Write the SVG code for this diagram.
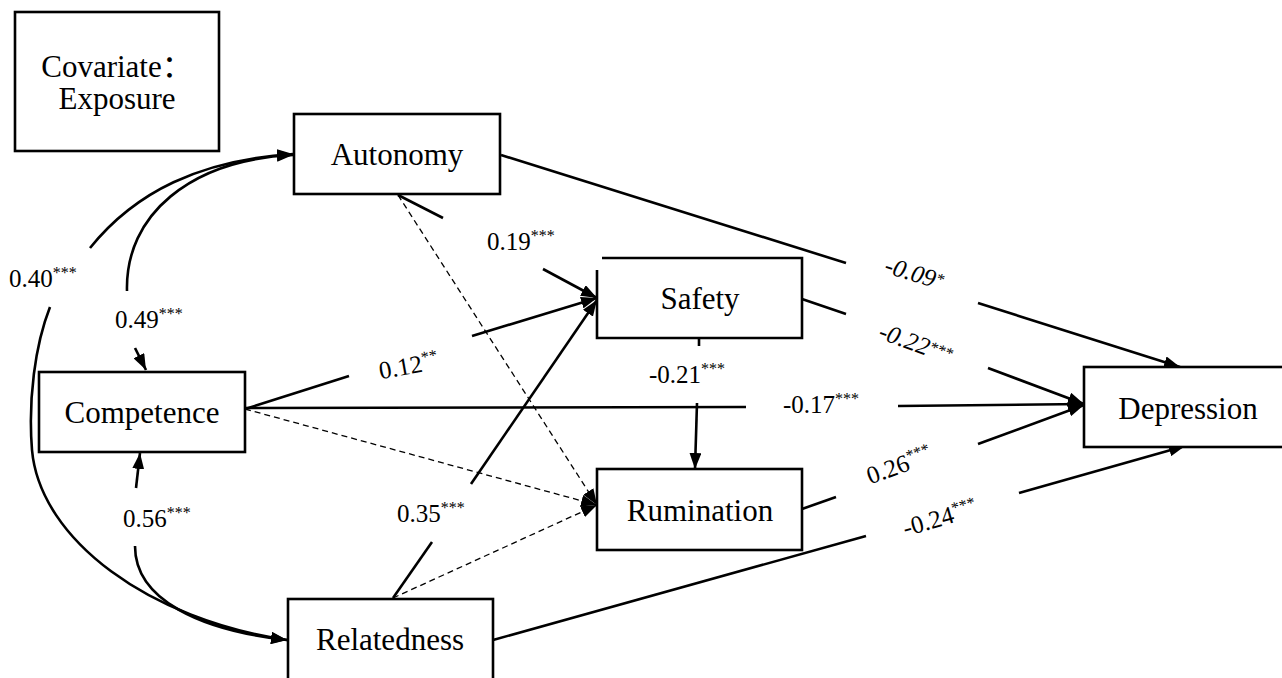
<svg xmlns="http://www.w3.org/2000/svg" width="1282" height="678" viewBox="0 0 1282 678">
<style>
.box{fill:#fff;stroke:#000;stroke-width:2.6}
.nt{font-family:"Liberation Serif","Noto Sans CJK SC",serif;font-size:31px;fill:#000;text-anchor:middle}
.ln{fill:none;stroke:#000;stroke-width:2.6}
.ds{fill:none;stroke:#000;stroke-width:1.3;stroke-dasharray:6 4}
.lb{font-family:"Liberation Serif",serif;font-size:25px;fill:#000}
.it{font-style:italic}
.mid{text-anchor:middle}
.sp{font-size:16px}
</style>
<defs>
<marker id="ah" viewBox="0 0 16 12" refX="16" refY="6" markerWidth="16" markerHeight="12" markerUnits="userSpaceOnUse" orient="auto">
<path d="M0,0 L16,6 L0,12 z" fill="#000"/>
</marker>
</defs>

<g id="connectors">
<!-- left curves -->
<path class="ln" d="M127 291 C125 215 190 160 293 155" marker-end="url(#ah)"/>
<path class="ln" d="M135 348 L146 370" marker-end="url(#ah)"/>
<path class="ln" d="M90 248 C135 192 200 160 293 154" marker-end="url(#ah)"/>
<path class="ln" d="M50 307 C35 345 28 400 32 450 C40 540 150 620 287 640" marker-end="url(#ah)"/>
<path class="ln" d="M136 488 L140 453" marker-end="url(#ah)"/>
<path class="ln" d="M135 546 C135 600 200 630 287 640" marker-end="url(#ah)"/>
<!-- to Safety -->
<path class="ln" d="M398 195 L443 218"/>
<path class="ln" d="M543 269 L597 298" marker-end="url(#ah)"/>
<path class="ln" d="M245 409 L349 376"/>
<path class="ln" d="M472 336 L597 298" marker-end="url(#ah)"/>
<path class="ln" d="M393 598 L432 542"/>
<path class="ln" d="M471 484 L597 300" marker-end="url(#ah)"/>
<!-- dashed to Rumination -->
<path class="ds" d="M398 195 L597 505" marker-end="url(#ah)"/>
<path class="ds" d="M245 409 L597 505" marker-end="url(#ah)"/>
<path class="ds" d="M393 598 L597 505" marker-end="url(#ah)"/>
<!-- Safety to Rumination -->
<path class="ln" d="M699 338 L699 346"/>
<path class="ln" d="M697 403 L695 469" marker-end="url(#ah)"/>
<!-- to Depression -->
<path class="ln" d="M501 155 L846 263"/>
<path class="ln" d="M978 303 L1180 367" marker-end="url(#ah)"/>
<path class="ln" d="M802 299 L846 314"/>
<path class="ln" d="M988 368 L1084 404" marker-end="url(#ah)"/>
<path class="ln" d="M245 408 L746 407"/>
<path class="ln" d="M898 406 L1084 404" marker-end="url(#ah)"/>
<path class="ln" d="M802 509 L836 497"/>
<path class="ln" d="M978 444 L1084 405" marker-end="url(#ah)"/>
<path class="ln" d="M493 640 L866 536"/>
<path class="ln" d="M1019 493 L1185 446" marker-end="url(#ah)"/>
</g>

<g id="labels">
<text class="lb" x="9" y="287">0.40<tspan class="sp" dy="-9">***</tspan></text>
<text class="lb" x="115" y="328">0.49<tspan class="sp" dy="-9">***</tspan></text>
<text class="lb" x="123" y="527">0.56<tspan class="sp" dy="-9">***</tspan></text>
<text class="lb" x="397" y="522">0.35<tspan class="sp" dy="-9">***</tspan></text>
<text class="lb" x="487" y="250">0.19<tspan class="sp" dy="-9">***</tspan></text>
<text class="lb mid" x="410" y="374" transform="rotate(-10 410 374)">0.12<tspan class="sp" dy="-9">**</tspan></text>
<text class="lb" x="649" y="383">-0.21<tspan class="sp" dy="-9">***</tspan></text>
<text class="lb" x="783" y="413">-0.17<tspan class="sp" dy="-9">***</tspan></text>
<text class="lb it mid" x="912" y="281" transform="rotate(17 912 281)">-0.09<tspan class="sp" dy="-5">*</tspan></text>
<text class="lb it mid" x="913" y="351" transform="rotate(20 913 351)">-0.22<tspan class="sp" dy="-5">***</tspan></text>
<text class="lb mid" x="902" y="473" transform="rotate(-20 902 473)">0.26<tspan class="sp" dy="-9">***</tspan></text>
<text class="lb mid" x="942" y="526" transform="rotate(-16 942 526)">-0.24<tspan class="sp" dy="-9">***</tspan></text>
</g>

<g id="covariate">
<rect class="box" x="15" y="12" width="204" height="139"/>
<text class="nt" x="117" y="77">Covariate：</text>
<text class="nt" x="117" y="109">Exposure</text>
</g>
<g id="autonomy">
<rect class="box" x="294" y="114" width="206" height="80"/>
<text class="nt" x="397" y="165">Autonomy</text>
</g>
<g id="competence">
<rect class="box" x="39" y="372" width="206" height="80"/>
<text class="nt" x="142" y="423">Competence</text>
</g>
<g id="relatedness">
<rect class="box" x="288" y="599" width="205" height="82"/>
<text class="nt" x="390" y="650">Relatedness</text>
</g>
<g id="safety">
<path class="box" d="M602 258 H802 V338 H597 V270"/>
<text class="nt" x="700" y="309">Safety</text>
</g>
<g id="rumination">
<rect class="box" x="597" y="469" width="205" height="81"/>
<text class="nt" x="700" y="521">Rumination</text>
</g>
<g id="depression">
<rect class="box" x="1084" y="367" width="210" height="80"/>
<text class="nt" x="1188" y="419">Depression</text>
</g>
</svg>
